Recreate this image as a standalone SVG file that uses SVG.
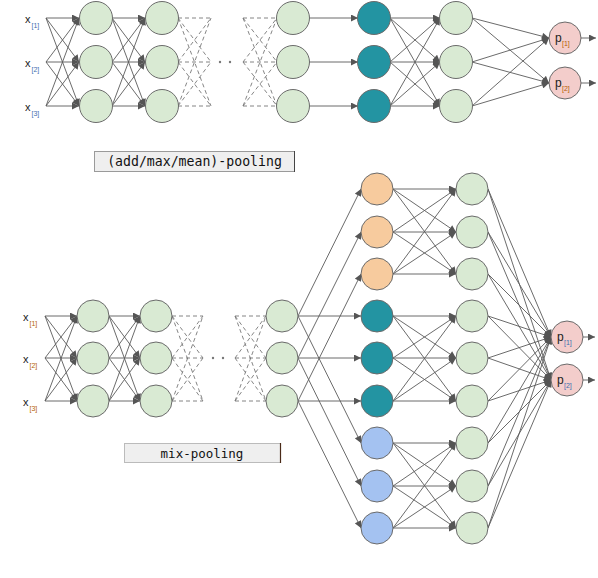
<svg xmlns="http://www.w3.org/2000/svg" width="598" height="578" viewBox="0 0 598 578">
<defs>
<marker id="ah" viewBox="0 0 10 10" refX="10" refY="5" markerWidth="8" markerHeight="7" markerUnits="userSpaceOnUse" orient="auto">
<path d="M0,0L10,5L0,10z" fill="#555"/>
</marker>
<style>
.c line{stroke:#5a5a5a;stroke-width:0.9;fill:none}
.c .a{marker-end:url(#ah)}
.c .d{stroke:#777;stroke-dasharray:4,3}
.n circle{stroke:#6b6b6b;stroke-width:1}
.g{fill:#d9ead3}.t{fill:#2394a2}.o{fill:#f7cb9e}.b{fill:#a4c2f1}.p{fill:#f3cdcb}
.lbl{font-family:"Liberation Sans",Arial,sans-serif;fill:#222}
.s1{font-size:7px;fill:#3d6fb0}.s2{font-size:7px;fill:#b45f06}
.box{fill:#efefef;stroke:#9a9a9a;stroke-width:1}
.mono{font-family:"DejaVu Sans Mono","Liberation Mono",monospace;fill:#111}
</style>
</defs>
<rect width="598" height="578" fill="#fff"/>
<g id="connectors" class="c">
<!-- top: inputs to L1 -->
<line class="a" x1="46" y1="18" x2="79" y2="18"/><line class="a" x1="46" y1="18" x2="79" y2="62"/><line class="a" x1="46" y1="18" x2="79" y2="106"/>
<line class="a" x1="46" y1="62" x2="79" y2="18"/><line class="a" x1="46" y1="62" x2="79" y2="62"/><line class="a" x1="46" y1="62" x2="79" y2="106"/>
<line class="a" x1="46" y1="106" x2="79" y2="18"/><line class="a" x1="46" y1="106" x2="79" y2="62"/><line class="a" x1="46" y1="106" x2="79" y2="106"/>
<!-- top L1 to L2 -->
<line class="a" x1="112" y1="18" x2="145" y2="18"/><line class="a" x1="112" y1="18" x2="145" y2="62"/><line class="a" x1="112" y1="18" x2="145" y2="106"/>
<line class="a" x1="112" y1="62" x2="145" y2="18"/><line class="a" x1="112" y1="62" x2="145" y2="62"/><line class="a" x1="112" y1="62" x2="145" y2="106"/>
<line class="a" x1="112" y1="106" x2="145" y2="18"/><line class="a" x1="112" y1="106" x2="145" y2="62"/><line class="a" x1="112" y1="106" x2="145" y2="106"/>
<!-- top dashed -->
<line class="d" x1="178" y1="18" x2="211" y2="18"/><line class="d" x1="178" y1="18" x2="211" y2="62"/><line class="d" x1="178" y1="18" x2="211" y2="106"/>
<line class="d" x1="178" y1="62" x2="211" y2="18"/><line class="d" x1="178" y1="62" x2="211" y2="62"/><line class="d" x1="178" y1="62" x2="211" y2="106"/>
<line class="d" x1="178" y1="106" x2="211" y2="18"/><line class="d" x1="178" y1="106" x2="211" y2="62"/><line class="d" x1="178" y1="106" x2="211" y2="106"/>
<line class="d" x1="243" y1="18" x2="277" y2="18"/><line class="d" x1="243" y1="18" x2="277" y2="62"/><line class="d" x1="243" y1="18" x2="277" y2="106"/>
<line class="d" x1="243" y1="62" x2="277" y2="18"/><line class="d" x1="243" y1="62" x2="277" y2="62"/><line class="d" x1="243" y1="62" x2="277" y2="106"/>
<line class="d" x1="243" y1="106" x2="277" y2="18"/><line class="d" x1="243" y1="106" x2="277" y2="62"/><line class="d" x1="243" y1="106" x2="277" y2="106"/>
<!-- top L3 to teal -->
<line class="a" x1="309" y1="18" x2="358" y2="18"/><line class="a" x1="309" y1="62" x2="358" y2="62"/><line class="a" x1="309" y1="106" x2="358" y2="106"/>
<!-- top teal to green -->
<line class="a" x1="390" y1="18" x2="440" y2="18"/><line class="a" x1="390" y1="18" x2="440" y2="62"/><line class="a" x1="390" y1="18" x2="440" y2="106"/>
<line class="a" x1="390" y1="62" x2="440" y2="18"/><line class="a" x1="390" y1="62" x2="440" y2="62"/><line class="a" x1="390" y1="62" x2="440" y2="106"/>
<line class="a" x1="390" y1="106" x2="440" y2="18"/><line class="a" x1="390" y1="106" x2="440" y2="62"/><line class="a" x1="390" y1="106" x2="440" y2="106"/>
<!-- top green to p -->
<line class="a" x1="472" y1="18" x2="549" y2="38"/><line class="a" x1="472" y1="18" x2="549" y2="83"/>
<line class="a" x1="472" y1="62" x2="549" y2="38"/><line class="a" x1="472" y1="62" x2="549" y2="83"/>
<line class="a" x1="472" y1="106" x2="549" y2="38"/><line class="a" x1="472" y1="106" x2="549" y2="83"/>
<line class="a" x1="581" y1="38" x2="596" y2="38"/><line class="a" x1="581" y1="83" x2="596" y2="83"/>

<!-- bottom: inputs to L1 -->
<line class="a" x1="45" y1="316" x2="77" y2="316"/><line class="a" x1="45" y1="316" x2="77" y2="358"/><line class="a" x1="45" y1="316" x2="77" y2="401"/>
<line class="a" x1="45" y1="358" x2="77" y2="316"/><line class="a" x1="45" y1="358" x2="77" y2="358"/><line class="a" x1="45" y1="358" x2="77" y2="401"/>
<line class="a" x1="45" y1="401" x2="77" y2="316"/><line class="a" x1="45" y1="401" x2="77" y2="358"/><line class="a" x1="45" y1="401" x2="77" y2="401"/>
<!-- bottom L1 to L2 -->
<line class="a" x1="109" y1="316" x2="140" y2="316"/><line class="a" x1="109" y1="316" x2="140" y2="358"/><line class="a" x1="109" y1="316" x2="140" y2="401"/>
<line class="a" x1="109" y1="358" x2="140" y2="316"/><line class="a" x1="109" y1="358" x2="140" y2="358"/><line class="a" x1="109" y1="358" x2="140" y2="401"/>
<line class="a" x1="109" y1="401" x2="140" y2="316"/><line class="a" x1="109" y1="401" x2="140" y2="358"/><line class="a" x1="109" y1="401" x2="140" y2="401"/>
<!-- bottom dashed -->
<line class="d" x1="172" y1="316" x2="203" y2="316"/><line class="d" x1="172" y1="316" x2="203" y2="358"/><line class="d" x1="172" y1="316" x2="203" y2="401"/>
<line class="d" x1="172" y1="358" x2="203" y2="316"/><line class="d" x1="172" y1="358" x2="203" y2="358"/><line class="d" x1="172" y1="358" x2="203" y2="401"/>
<line class="d" x1="172" y1="401" x2="203" y2="316"/><line class="d" x1="172" y1="401" x2="203" y2="358"/><line class="d" x1="172" y1="401" x2="203" y2="401"/>
<line class="d" x1="235" y1="316" x2="266" y2="316"/><line class="d" x1="235" y1="316" x2="266" y2="358"/><line class="d" x1="235" y1="316" x2="266" y2="401"/>
<line class="d" x1="235" y1="358" x2="266" y2="316"/><line class="d" x1="235" y1="358" x2="266" y2="358"/><line class="d" x1="235" y1="358" x2="266" y2="401"/>
<line class="d" x1="235" y1="401" x2="266" y2="316"/><line class="d" x1="235" y1="401" x2="266" y2="358"/><line class="d" x1="235" y1="401" x2="266" y2="401"/>
<!-- bottom L3 to middle -->
<line class="a" x1="298" y1="316" x2="361" y2="189"/><line class="a" x1="298" y1="316" x2="361" y2="316"/><line class="a" x1="298" y1="316" x2="361" y2="443"/>
<line class="a" x1="298" y1="358" x2="361" y2="232"/><line class="a" x1="298" y1="358" x2="361" y2="358"/><line class="a" x1="298" y1="358" x2="361" y2="486"/>
<line class="a" x1="298" y1="401" x2="361" y2="274"/><line class="a" x1="298" y1="401" x2="361" y2="401"/><line class="a" x1="298" y1="401" x2="361" y2="528"/>
<!-- orange to green -->
<line class="a" x1="393" y1="189" x2="456" y2="189"/><line class="a" x1="393" y1="189" x2="456" y2="232"/><line class="a" x1="393" y1="189" x2="456" y2="274"/>
<line class="a" x1="393" y1="232" x2="456" y2="189"/><line class="a" x1="393" y1="232" x2="456" y2="232"/><line class="a" x1="393" y1="232" x2="456" y2="274"/>
<line class="a" x1="393" y1="274" x2="456" y2="189"/><line class="a" x1="393" y1="274" x2="456" y2="232"/><line class="a" x1="393" y1="274" x2="456" y2="274"/>
<!-- teal to green -->
<line class="a" x1="393" y1="316" x2="456" y2="316"/><line class="a" x1="393" y1="316" x2="456" y2="358"/><line class="a" x1="393" y1="316" x2="456" y2="401"/>
<line class="a" x1="393" y1="358" x2="456" y2="316"/><line class="a" x1="393" y1="358" x2="456" y2="358"/><line class="a" x1="393" y1="358" x2="456" y2="401"/>
<line class="a" x1="393" y1="401" x2="456" y2="316"/><line class="a" x1="393" y1="401" x2="456" y2="358"/><line class="a" x1="393" y1="401" x2="456" y2="401"/>
<!-- blue to green -->
<line class="a" x1="393" y1="443" x2="456" y2="443"/><line class="a" x1="393" y1="443" x2="456" y2="486"/><line class="a" x1="393" y1="443" x2="456" y2="528"/>
<line class="a" x1="393" y1="486" x2="456" y2="443"/><line class="a" x1="393" y1="486" x2="456" y2="486"/><line class="a" x1="393" y1="486" x2="456" y2="528"/>
<line class="a" x1="393" y1="528" x2="456" y2="443"/><line class="a" x1="393" y1="528" x2="456" y2="486"/><line class="a" x1="393" y1="528" x2="456" y2="528"/>
<!-- green to p -->
<line class="a" x1="488" y1="189" x2="551" y2="337"/><line class="a" x1="488" y1="189" x2="551" y2="380"/>
<line class="a" x1="488" y1="232" x2="551" y2="337"/><line class="a" x1="488" y1="232" x2="551" y2="380"/>
<line class="a" x1="488" y1="274" x2="551" y2="337"/><line class="a" x1="488" y1="274" x2="551" y2="380"/>
<line class="a" x1="488" y1="316" x2="551" y2="337"/><line class="a" x1="488" y1="316" x2="551" y2="380"/>
<line class="a" x1="488" y1="358" x2="551" y2="337"/><line class="a" x1="488" y1="358" x2="551" y2="380"/>
<line class="a" x1="488" y1="401" x2="551" y2="337"/><line class="a" x1="488" y1="401" x2="551" y2="380"/>
<line class="a" x1="488" y1="443" x2="551" y2="337"/><line class="a" x1="488" y1="443" x2="551" y2="380"/>
<line class="a" x1="488" y1="486" x2="551" y2="337"/><line class="a" x1="488" y1="486" x2="551" y2="380"/>
<line class="a" x1="488" y1="528" x2="551" y2="337"/><line class="a" x1="488" y1="528" x2="551" y2="380"/>
<line class="a" x1="583" y1="337" x2="595" y2="337"/><line class="a" x1="583" y1="380" x2="595" y2="380"/>
</g>

<g id="dots" fill="#777">
<circle cx="220" cy="62" r="1.2"/><circle cx="230" cy="62" r="1.2"/>
<circle cx="213" cy="358" r="1.2"/><circle cx="223" cy="358" r="1.2"/>
</g>

<g id="top-inputs" class="lbl">
<g id="tx1"><text x="25" y="23" font-size="11">x</text><text x="31.5" y="28" class="lbl s1">[1]</text></g>
<g id="tx2"><text x="25" y="67" font-size="11">x</text><text x="31.5" y="72" class="lbl s1">[2]</text></g>
<g id="tx3"><text x="25" y="111" font-size="11">x</text><text x="31.5" y="116" class="lbl s1">[3]</text></g>
</g>

<g class="n">
<g id="t-l1-1"><circle class="g" cx="96" cy="18" r="16.5"/></g>
<g id="t-l1-2"><circle class="g" cx="96" cy="62" r="16.5"/></g>
<g id="t-l1-3"><circle class="g" cx="96" cy="106" r="16.5"/></g>
<g id="t-l2-1"><circle class="g" cx="162" cy="18" r="16.5"/></g>
<g id="t-l2-2"><circle class="g" cx="162" cy="62" r="16.5"/></g>
<g id="t-l2-3"><circle class="g" cx="162" cy="106" r="16.5"/></g>
<g id="t-l3-1"><circle class="g" cx="293" cy="18" r="16.5"/></g>
<g id="t-l3-2"><circle class="g" cx="293" cy="62" r="16.5"/></g>
<g id="t-l3-3"><circle class="g" cx="293" cy="106" r="16.5"/></g>
<g id="t-pool-1"><circle class="t" cx="374" cy="18" r="16.5"/></g>
<g id="t-pool-2"><circle class="t" cx="374" cy="62" r="16.5"/></g>
<g id="t-pool-3"><circle class="t" cx="374" cy="106" r="16.5"/></g>
<g id="t-l5-1"><circle class="g" cx="456" cy="18" r="16.5"/></g>
<g id="t-l5-2"><circle class="g" cx="456" cy="62" r="16.5"/></g>
<g id="t-l5-3"><circle class="g" cx="456" cy="106" r="16.5"/></g>
<g id="t-p1"><circle class="p" cx="565" cy="38" r="16"/><text class="lbl" x="555" y="42" font-size="12">p</text><text class="lbl s2" x="562" y="46">[1]</text></g>
<g id="t-p2"><circle class="p" cx="565" cy="83" r="16"/><text class="lbl" x="555" y="87" font-size="12">p</text><text class="lbl s2" x="562" y="91">[2]</text></g>
</g>

<g id="label-top">
<rect class="box" x="94.5" y="151.5" width="200" height="20"/>
<line x1="294.5" y1="151" x2="294.5" y2="172" stroke="#444"/>
<text class="mono" x="194.5" y="166" font-size="13.2" text-anchor="middle">(add/max/mean)-pooling</text>
</g>

<g id="bottom-inputs" class="lbl">
<g id="bx1"><text x="23" y="321" font-size="11">x</text><text x="29.5" y="326" class="lbl s2">[1]</text></g>
<g id="bx2"><text x="23" y="363" font-size="11">x</text><text x="29.5" y="368" class="lbl s2">[2]</text></g>
<g id="bx3"><text x="23" y="406" font-size="11">x</text><text x="29.5" y="411" class="lbl s2">[3]</text></g>
</g>

<g class="n">
<g id="b-l1-1"><circle class="g" cx="93" cy="316" r="16"/></g>
<g id="b-l1-2"><circle class="g" cx="93" cy="358" r="16"/></g>
<g id="b-l1-3"><circle class="g" cx="93" cy="401" r="16"/></g>
<g id="b-l2-1"><circle class="g" cx="156" cy="316" r="16"/></g>
<g id="b-l2-2"><circle class="g" cx="156" cy="358" r="16"/></g>
<g id="b-l2-3"><circle class="g" cx="156" cy="401" r="16"/></g>
<g id="b-l3-1"><circle class="g" cx="282" cy="316" r="16"/></g>
<g id="b-l3-2"><circle class="g" cx="282" cy="358" r="16"/></g>
<g id="b-l3-3"><circle class="g" cx="282" cy="401" r="16"/></g>
<g id="b-add-1"><circle class="o" cx="377" cy="189" r="16"/></g>
<g id="b-add-2"><circle class="o" cx="377" cy="232" r="16"/></g>
<g id="b-add-3"><circle class="o" cx="377" cy="274" r="16"/></g>
<g id="b-max-1"><circle class="t" cx="377" cy="316" r="16"/></g>
<g id="b-max-2"><circle class="t" cx="377" cy="358" r="16"/></g>
<g id="b-max-3"><circle class="t" cx="377" cy="401" r="16"/></g>
<g id="b-mean-1"><circle class="b" cx="377" cy="443" r="16"/></g>
<g id="b-mean-2"><circle class="b" cx="377" cy="486" r="16"/></g>
<g id="b-mean-3"><circle class="b" cx="377" cy="528" r="16"/></g>
<g id="b-g-1"><circle class="g" cx="472" cy="189" r="16"/></g>
<g id="b-g-2"><circle class="g" cx="472" cy="232" r="16"/></g>
<g id="b-g-3"><circle class="g" cx="472" cy="274" r="16"/></g>
<g id="b-g-4"><circle class="g" cx="472" cy="316" r="16"/></g>
<g id="b-g-5"><circle class="g" cx="472" cy="358" r="16"/></g>
<g id="b-g-6"><circle class="g" cx="472" cy="401" r="16"/></g>
<g id="b-g-7"><circle class="g" cx="472" cy="443" r="16"/></g>
<g id="b-g-8"><circle class="g" cx="472" cy="486" r="16"/></g>
<g id="b-g-9"><circle class="g" cx="472" cy="528" r="16"/></g>
<g id="b-p1"><circle class="p" cx="567" cy="337" r="16"/><text class="lbl" x="557" y="341" font-size="12">p</text><text class="lbl s1" x="564" y="345">[1]</text></g>
<g id="b-p2"><circle class="p" cx="567" cy="380" r="16"/><text class="lbl" x="557" y="384" font-size="12">p</text><text class="lbl s1" x="564" y="388">[2]</text></g>
</g>

<g id="label-bottom">
<rect x="124.5" y="443.5" width="156" height="19" fill="#efefef" stroke="#bbb" stroke-width="1"/>
<line x1="280.5" y1="443" x2="280.5" y2="463" stroke="#4a2a18" stroke-width="1.2"/>
<text class="mono" x="202" y="457.5" font-size="12.5" text-anchor="middle">mix-pooling</text>
</g>
</svg>
